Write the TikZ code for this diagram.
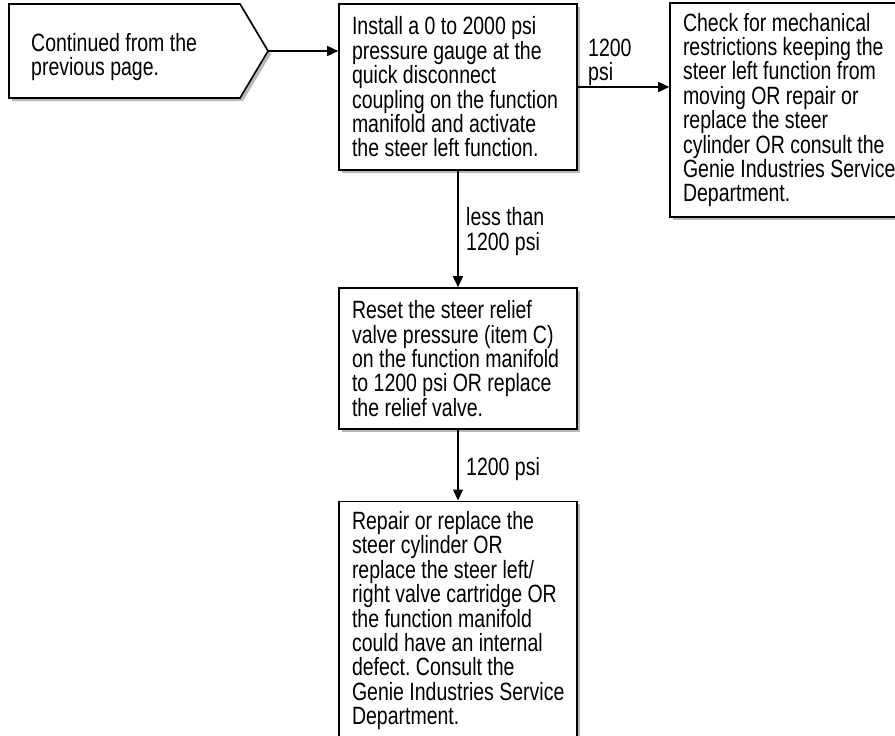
\documentclass[tikz,border=0pt]{standalone}
\usepackage{fontspec}
\setmainfont{Liberation Sans}[FakeStretch=0.78]
\usetikzlibrary{arrows.meta,shadows}
\newcommand{\flowfont}{\fontsize{25pt}{24.4pt}\selectfont}
\tikzset{
  every node/.style={font=\flowfont},
  shadowed/.style={general shadow={fill=black!28, shadow xshift=3pt, shadow yshift=-3pt}},
  stepbox/.style={draw, line width=1.6pt, fill=white, shadowed, align=left,
    text width=226pt, inner xsep=6pt, inner ysep=0pt, minimum width=238pt,
    execute at begin node={\frenchspacing\spaceskip=0pt\relax\xspaceskip=0pt\relax\leftskip=7pt\relax\hyphenpenalty=10000\relax\exhyphenpenalty=10000\relax}},
  lbl/.style={anchor=west, align=left, inner sep=0pt},
  flow/.style={line width=1.5pt, -{Triangle[length=11pt,width=10pt]}},
}
\begin{document}
\begin{tikzpicture}[x=1pt,y=-1pt]
\useasboundingbox (0,0) rectangle (895,736);
\clip (0,0) rectangle (895,736);
\fill[white] (0,0) rectangle (895,736);

% start pentagon
\filldraw[line width=1.6pt, fill=white, shadowed, line join=miter]
  (9,4) -- (240,4) -- (268,51) -- (240,98) -- (9,98) -- cycle;
\node[lbl, anchor=north west] (conttext) at (31,32.8) {Continued from the\\previous page.};
\coordinate (conttip) at (268,51);

% boxes
\node[stepbox, minimum height=166pt] (gauge) at (458,87)
  {Install a 0 to 2000 psi\\pressure gauge at the\\quick disconnect\\coupling on the function\\manifold and activate\\the steer left function.};

\node[stepbox, minimum height=214pt] (check) at (789,110)
  {Check for mechanical\\restrictions keeping the\\steer left function from\\moving OR repair or\\replace the steer\\cylinder OR consult the\\Genie Industries Service\\Department.};

\node[stepbox, minimum height=141pt] (reset) at (458,358.5)
  {Reset the steer relief\\valve pressure (item C)\\on the function manifold\\to 1200 psi OR replace\\the relief valve.};

\node[stepbox, anchor=north, inner ysep=10pt, text depth=230pt] (repair) at (458,500.5)
  {Repair or replace the\\steer cylinder OR\\replace the steer left/\\right valve cartridge OR\\the function manifold\\could have an internal\\defect. Consult the\\Genie Industries Service\\Department.};

% connectors
\draw[flow] (conttip) -- (conttip -| gauge.west);
\draw[flow] (gauge.east) -- (gauge.east -| check.west);
\draw[flow] (gauge.south) -- (reset.north);
\draw[flow] (reset.south) -- (repair.north);

% labels
\node[lbl] (l1) at (588,62.5) {1200\\psi};
\node[lbl] (l2) at (466,231.5) {less than\\1200 psi};
\node[lbl] (l3) at (466,469) {1200 psi};
\end{tikzpicture}
\end{document}
